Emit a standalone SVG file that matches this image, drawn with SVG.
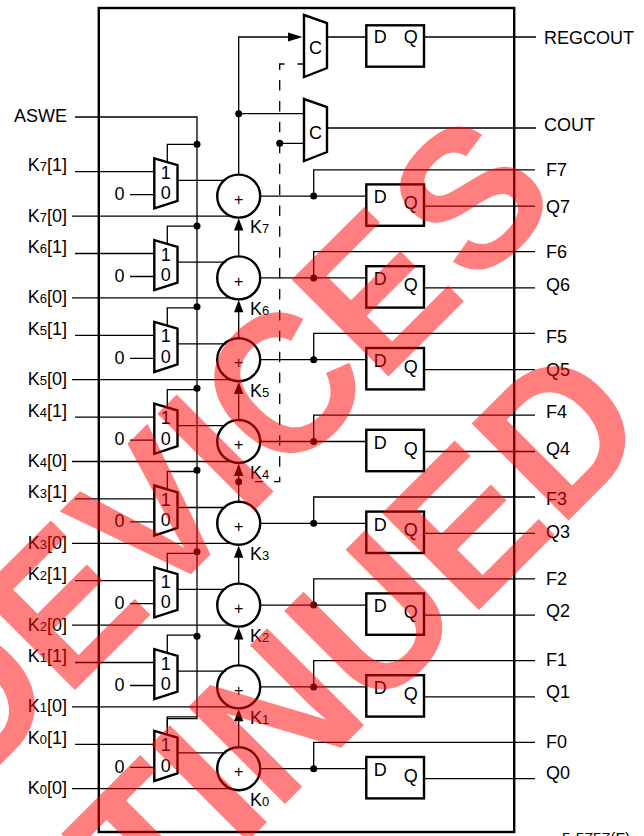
<svg xmlns="http://www.w3.org/2000/svg" width="644" height="836" viewBox="0 0 644 836">
<style>
text{font-family:"Liberation Sans",Arial,sans-serif;font-size:18px;fill:#000}
.s{font-size:13px}
.p{font-size:16px;text-anchor:middle}
.r{text-anchor:end}
.m{text-anchor:middle}
.l{fill:none;stroke:#000;stroke-width:1.3}
.b{fill:#fff;stroke:#000;stroke-width:2.4}
.d{fill:#000}
.t{fill:#000}
.wm{font-family:"Liberation Sans",Arial,sans-serif;font-weight:bold;font-size:190px;fill:#f00;fill-opacity:.5}
</style>
<defs>
<g id="stage-lines">
<path class="l" d="M75-24.4H154.3M130-1.4H154.3M177.5-15.8H226M72 20H232M167.3-31V-51.8H197M260.5 0H366.3M313.7 0V-26.3H535M424 10H535"/>
<circle class="d" cx="313.7" cy="0" r="3.5"/>
</g>
<g id="mux">
<path class="b" d="M154.3-37.8L177.5-31V4.7L154.3 12.3Z"/>
<text class="m" x="165.7" y="-17.4">1</text>
<text class="m" x="165.7" y="3">0</text>
</g>
<g id="adder">
<circle cx="238.7" cy="0" r="21.5" fill="none" stroke="#000" stroke-width="2.4"/>
<text class="p" x="238.7" y="8.6">+</text>
</g>
<g id="ff">
<rect class="b" x="366.3" y="-11.7" width="57.7" height="41.4"/>
<text x="373.7" y="7.3">D</text>
<text x="403.7" y="13">Q</text>
</g>
</defs>
<g id="frame"><rect x="98.8" y="8" width="415.4" height="824" fill="#fff" stroke="#000" stroke-width="2.4"/></g>
<g id="connectors">
<path class="l" d="M75 117H197V718.7H167.3V727"/>
<path class="l" d="M238.7 174V37H290M238.7 113.7H304M279.7 143.3H304M328 37H366M424 37H536M328 128H536"/>
<path class="l" d="M238.7 230V256M238.7 312V338M238.7 394V420M238.7 475V502M238.7 557V584M238.7 639V666M238.7 721V747"/>
<path class="l" d="M304 64H297.5M284.5 64H279.7V70M255 481.7H263M274 481.7H279.7V476.7"/>
<path class="l" stroke-dasharray="10.5 10.4" d="M279.7 80V467"/>
<path class="t" d="M302.5 37L288 32.5V41.5Z"/>
<g id="arrows">
<path class="t" d="M238.7 218.3L234 230.5H243.4Z"/>
<path class="t" d="M238.7 300.1L234 312.3H243.4Z"/>
<path class="t" d="M238.7 381.9L234 394.1H243.4Z"/>
<path class="t" d="M238.7 463.7L234 475.9H243.4Z"/>
<path class="t" d="M238.7 545.5L234 557.7H243.4Z"/>
<path class="t" d="M238.7 627.3L234 639.5H243.4Z"/>
<path class="t" d="M238.7 709.1L234 721.3H243.4Z"/>
</g>
<g id="dots">
<circle class="d" cx="238.7" cy="113.7" r="3.5"/>
<circle class="d" cx="279.7" cy="143.3" r="3.5"/>
<circle class="d" cx="238.7" cy="481.7" r="3.5"/>
<circle class="d" cx="197" cy="144.3" r="3.5"/>
<circle class="d" cx="197" cy="226" r="3.5"/>
<circle class="d" cx="197" cy="306.7" r="3.5"/>
<circle class="d" cx="197" cy="388.3" r="3.5"/>
<circle class="d" cx="197" cy="470.3" r="3.5"/>
<circle class="d" cx="197" cy="551.7" r="3.5"/>
<circle class="d" cx="197" cy="636.3" r="3.5"/>
</g>
<use href="#stage-lines" y="196.1"/>
<use href="#stage-lines" y="277.9"/>
<use href="#stage-lines" y="359.7"/>
<use href="#stage-lines" y="441.5"/>
<use href="#stage-lines" y="523.3"/>
<use href="#stage-lines" y="605.1"/>
<use href="#stage-lines" y="686.9"/>
<use href="#stage-lines" y="768.7"/>
</g>
<g id="mux-c1"><path class="b" d="M304 15L327 23V68L304 77Z"/><text x="309" y="54">C</text></g>
<g id="mux-c0"><path class="b" d="M304 99L327 107V152L304 161Z"/><text x="309" y="139.3">C</text></g>
<g id="ff-reg"><rect class="b" x="366.3" y="25.3" width="57.7" height="41.4"/><text x="373.7" y="42.7">D</text><text x="403.7" y="43">Q</text></g>
<g id="stage7"><use href="#mux" y="196.1"/><use href="#adder" y="196.1"/><use href="#ff" y="196.1"/></g>
<g id="stage6"><use href="#mux" y="277.9"/><use href="#adder" y="277.9"/><use href="#ff" y="277.9"/></g>
<g id="stage5"><use href="#mux" y="359.7"/><use href="#adder" y="359.7"/><use href="#ff" y="359.7"/></g>
<g id="stage4"><use href="#mux" y="441.5"/><use href="#adder" y="441.5"/><use href="#ff" y="441.5"/></g>
<g id="stage3"><use href="#mux" y="523.3"/><use href="#adder" y="523.3"/><use href="#ff" y="523.3"/></g>
<g id="stage2"><use href="#mux" y="605.1"/><use href="#adder" y="605.1"/><use href="#ff" y="605.1"/></g>
<g id="stage1"><use href="#mux" y="686.9"/><use href="#adder" y="686.9"/><use href="#ff" y="686.9"/></g>
<g id="stage0"><use href="#mux" y="768.7"/><use href="#adder" y="768.7"/><use href="#ff" y="768.7"/></g>
<g id="labels">
<text class="r" x="67" y="122">ASWE</text>
<text x="544" y="44.3">REGCOUT</text>
<text x="544" y="130.7">COUT</text>
<text class="r" x="67" y="171">K<tspan class="s">7</tspan>[1]</text>
<text class="r" x="67" y="221.6">K<tspan class="s">7</tspan>[0]</text>
<text class="r" x="67" y="252.9">K<tspan class="s">6</tspan>[1]</text>
<text class="r" x="67" y="303.4">K<tspan class="s">6</tspan>[0]</text>
<text class="r" x="67" y="334.7">K<tspan class="s">5</tspan>[1]</text>
<text class="r" x="67" y="385.2">K<tspan class="s">5</tspan>[0]</text>
<text class="r" x="67" y="416.5">K<tspan class="s">4</tspan>[1]</text>
<text class="r" x="67" y="467">K<tspan class="s">4</tspan>[0]</text>
<text class="r" x="67" y="498.3">K<tspan class="s">3</tspan>[1]</text>
<text class="r" x="67" y="548.8">K<tspan class="s">3</tspan>[0]</text>
<text class="r" x="67" y="580.1">K<tspan class="s">2</tspan>[1]</text>
<text class="r" x="67" y="630.6">K<tspan class="s">2</tspan>[0]</text>
<text class="r" x="67" y="661.9">K<tspan class="s">1</tspan>[1]</text>
<text class="r" x="67" y="712.4">K<tspan class="s">1</tspan>[0]</text>
<text class="r" x="67" y="743.7">K<tspan class="s">0</tspan>[1]</text>
<text class="r" x="67" y="794.2">K<tspan class="s">0</tspan>[0]</text>
<text x="114.5" y="200">0</text>
<text x="114.5" y="281.8">0</text>
<text x="114.5" y="363.6">0</text>
<text x="114.5" y="445.4">0</text>
<text x="114.5" y="527.2">0</text>
<text x="114.5" y="609">0</text>
<text x="114.5" y="690.8">0</text>
<text x="114.5" y="772.6">0</text>
<text x="250" y="233.1">K<tspan class="s">7</tspan></text>
<text x="250" y="314.9">K<tspan class="s">6</tspan></text>
<text x="250" y="396.7">K<tspan class="s">5</tspan></text>
<text x="250" y="478.5">K<tspan class="s">4</tspan></text>
<text x="250" y="560.3">K<tspan class="s">3</tspan></text>
<text x="250" y="642.1">K<tspan class="s">2</tspan></text>
<text x="250" y="723.9">K<tspan class="s">1</tspan></text>
<text x="250" y="805.7">K<tspan class="s">0</tspan></text>
<text x="546" y="175.7">F7</text>
<text x="546" y="212.7">Q7</text>
<text x="546" y="258.3">F6</text>
<text x="546" y="291">Q6</text>
<text x="546" y="343.3">F5</text>
<text x="546" y="376">Q5</text>
<text x="546" y="418.3">F4</text>
<text x="546" y="455">Q4</text>
<text x="546" y="505">F3</text>
<text x="546" y="538.3">Q3</text>
<text x="546" y="585.3">F2</text>
<text x="546" y="617">Q2</text>
<text x="546" y="666.3">F1</text>
<text x="546" y="698.3">Q1</text>
<text x="546" y="747.7">F0</text>
<text x="546" y="778.7">Q0</text>
<text x="562" y="843" style="font-size:15.5px">5-5757(F)</text>
</g>
<g id="watermark">
<text class="wm" transform="translate(-31 796) rotate(-45) scale(1 1.048)">DEVICE<tspan dx="7">S</tspan></text>
<text class="wm" transform="translate(-366 1455) rotate(-45) scale(1 1.048)">DISCONTINUED</text>
</g>
</svg>
